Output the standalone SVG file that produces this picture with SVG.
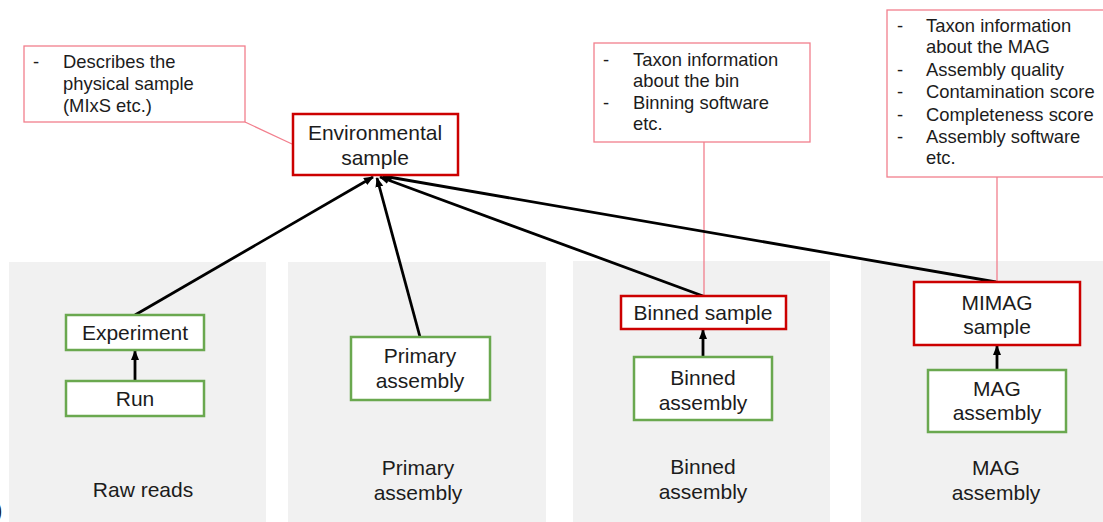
<svg xmlns="http://www.w3.org/2000/svg" width="1103" height="522" viewBox="0 0 1103 522">
<defs>
<style>
.panel{fill:#f1f1f1;stroke:none}
.red{fill:#fff;stroke:#cc0000;stroke-width:2.5}
.green{fill:#fff;stroke:#6aa84f;stroke-width:2.5}
.call{fill:#fff;stroke:#f27f8d;stroke-width:1.3}
.pink{stroke:#f27f8d;stroke-width:1.3;fill:none}
.t{font-family:"Liberation Sans",Arial,sans-serif;font-size:21px;fill:#1c1c1c;text-anchor:middle}
.c{font-family:"Liberation Sans",Arial,sans-serif;font-size:18.4px;fill:#1c1c1c}
.arr{stroke:#000;stroke-width:2.8;fill:none;marker-end:url(#ah)}
</style>
<marker id="ah" markerUnits="userSpaceOnUse" markerWidth="10" markerHeight="10" viewBox="0 0 10 10" refX="9" refY="5" orient="auto">
<path d="M0,1 L10,5 L0,9 Z" fill="#000"/>
</marker>
</defs>
<rect width="1103" height="522" fill="#fff"/>
<g id="panels">
<rect class="panel" x="9" y="262" width="257" height="260"/>
<rect class="panel" x="288" y="262" width="258" height="260"/>
<rect class="panel" x="573" y="261" width="257" height="261"/>
<rect class="panel" x="861" y="261" width="242" height="261"/>
<text class="t" x="143" y="497">Raw reads</text>
<text class="t" x="418" y="475">Primary</text>
<text class="t" x="418" y="500">assembly</text>
<text class="t" x="703" y="474">Binned</text>
<text class="t" x="703" y="499">assembly</text>
<text class="t" x="996" y="475">MAG</text>
<text class="t" x="996" y="500">assembly</text>
<text x="-6" y="519" style="font-family:'Liberation Sans',Arial,sans-serif;font-size:26px;fill:#1c1c1c">)</text>
</g>
<g id="connectors">
<line class="pink" x1="245" y1="122" x2="292" y2="144"/>
<line class="pink" x1="704" y1="142" x2="704" y2="296"/>
<line class="pink" x1="997" y1="177" x2="997" y2="282"/>
<line class="arr" x1="135" y1="315" x2="373" y2="177"/>
<line class="arr" x1="420" y1="337" x2="377" y2="178"/>
<line class="arr" x1="703" y1="296" x2="380" y2="177"/>
<line class="arr" x1="996" y1="282" x2="383" y2="176"/>
<line class="arr" x1="135" y1="381" x2="135" y2="351"/>
<line class="arr" x1="703" y1="357" x2="703" y2="330"/>
<line class="arr" x1="997" y1="370" x2="997" y2="346"/>
</g>
<g id="callout-env">
<rect class="call" x="24" y="46" width="221" height="76"/>
<text class="c" x="33" y="68">-</text>
<text class="c" x="63" y="68">Describes the</text>
<text class="c" x="63" y="90">physical sample</text>
<text class="c" x="63" y="112">(MIxS etc.)</text>
</g>
<g id="callout-bin">
<rect class="call" x="594" y="43" width="216" height="99"/>
<text class="c" x="603" y="66">-</text>
<text class="c" x="633" y="66">Taxon information</text>
<text class="c" x="633" y="87">about the bin</text>
<text class="c" x="603" y="109">-</text>
<text class="c" x="633" y="109">Binning software</text>
<text class="c" x="633" y="130">etc.</text>
</g>
<g id="callout-mag">
<rect class="call" x="887" y="10" width="220" height="167"/>
<text class="c" x="897" y="32">-</text>
<text class="c" x="926" y="32">Taxon information</text>
<text class="c" x="926" y="53">about the MAG</text>
<text class="c" x="897" y="76">-</text>
<text class="c" x="926" y="76">Assembly quality</text>
<text class="c" x="897" y="98">-</text>
<text class="c" x="926" y="98">Contamination score</text>
<text class="c" x="897" y="121">-</text>
<text class="c" x="926" y="121">Completeness score</text>
<text class="c" x="897" y="143">-</text>
<text class="c" x="926" y="143">Assembly software</text>
<text class="c" x="926" y="164">etc.</text>
</g>
<g id="environmental-sample">
<rect class="red" x="293" y="114" width="165" height="61"/>
<text class="t" x="375" y="140">Environmental</text>
<text class="t" x="375" y="165">sample</text>
</g>
<g id="experiment">
<rect class="green" x="66" y="315" width="138" height="35"/>
<text class="t" x="135" y="340">Experiment</text>
</g>
<g id="run">
<rect class="green" x="66" y="381" width="138" height="35"/>
<text class="t" x="135" y="406">Run</text>
</g>
<g id="primary-assembly">
<rect class="green" x="351" y="337" width="139" height="63"/>
<text class="t" x="420" y="363">Primary</text>
<text class="t" x="420" y="388">assembly</text>
</g>
<g id="binned-sample">
<rect class="red" x="621" y="296" width="165" height="33"/>
<text class="t" x="703" y="320">Binned sample</text>
</g>
<g id="binned-assembly">
<rect class="green" x="634" y="357" width="138" height="63"/>
<text class="t" x="703" y="385">Binned</text>
<text class="t" x="703" y="410">assembly</text>
</g>
<g id="mimag-sample">
<rect class="red" x="914" y="282" width="166" height="63"/>
<text class="t" x="997" y="310">MIMAG</text>
<text class="t" x="997" y="334">sample</text>
</g>
<g id="mag-assembly">
<rect class="green" x="928" y="370" width="138" height="62"/>
<text class="t" x="997" y="396">MAG</text>
<text class="t" x="997" y="420">assembly</text>
</g>
</svg>
